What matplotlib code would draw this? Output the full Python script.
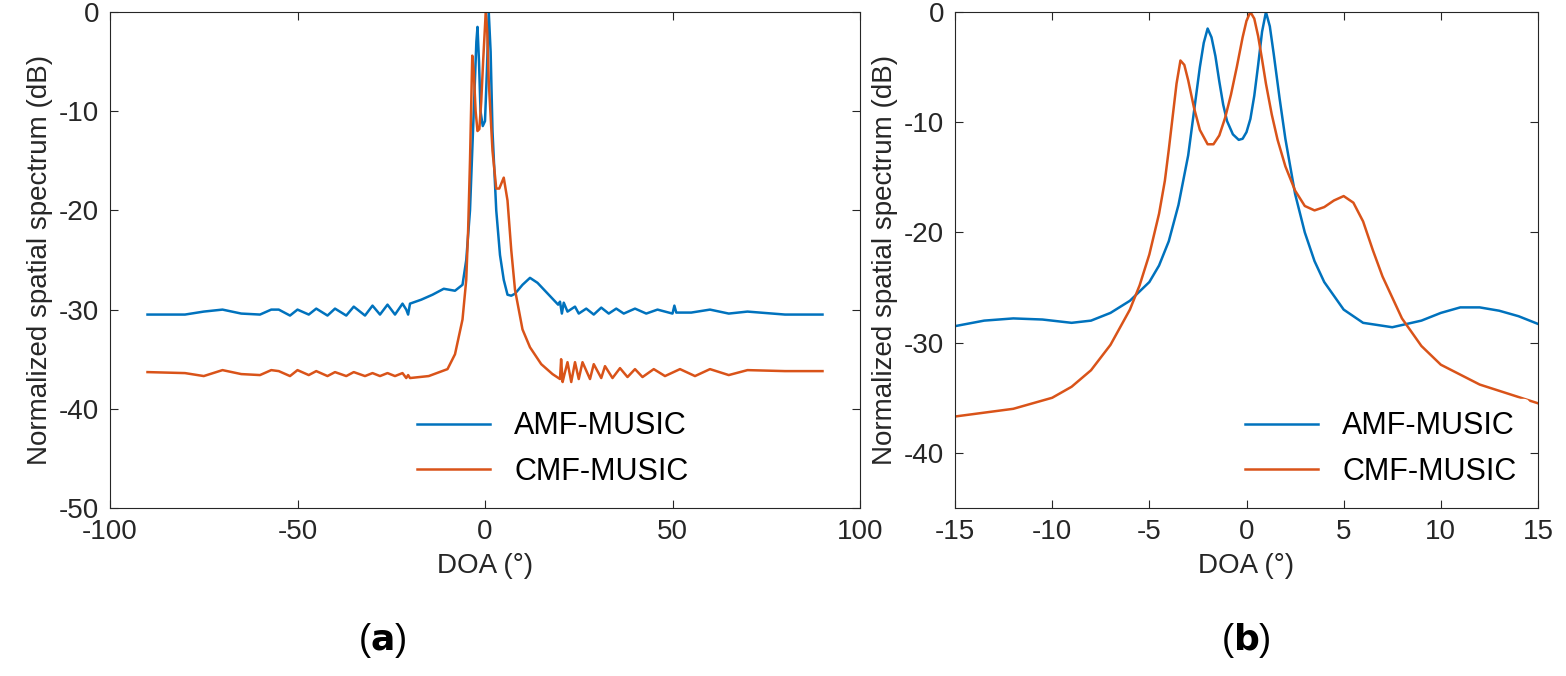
import matplotlib
matplotlib.use("Agg")
import matplotlib.pyplot as plt

plt.rcParams["font.family"] = ["Liberation Sans", "DejaVu Sans"]
plt.rcParams["axes.unicode_minus"] = False

BLUE = "#0072BD"
ORANGE = "#D95319"

# panel (a): full DOA sweep
amf_a_x = [-90, -80, -75, -70, -65, -60, -57, -55, -52, -50, -47, -45, -42, -40, -37, -35, -32, -30,
           -28, -26, -24, -22, -21, -20.5, -20, -17, -14, -11, -8, -6, -5, -4, -3, -2.3, -2, -1.6,
           -1.2, -0.6, 0, 0.5, 1, 1.5, 2, 3, 4, 5, 6, 7, 8, 10, 12, 14, 17, 19.5, 20, 20.5, 21,
           22, 24, 25, 27, 29, 31, 33, 35, 37, 40, 43, 46, 50, 50.5, 51, 55, 60, 65, 70, 80, 90]
amf_a_y = [-30.5, -30.5, -30.2, -30.0, -30.4, -30.5, -30.0, -30.0, -30.6, -30.0, -30.5, -29.9, -30.6,
           -29.9, -30.6, -29.7, -30.6, -29.6, -30.5, -29.5, -30.5, -29.4, -30.0, -30.5, -29.4,
           -29.0, -28.5, -27.9, -28.1, -27.5, -25.0, -20.0, -10.0, -3.0, -1.5, -5.0, -10.0, -11.5,
           -11.0, -6.0, 0.0, -4.0, -12.0, -20.0, -24.5, -27.0, -28.5, -28.6, -28.4, -27.5, -26.8,
           -27.3, -28.5, -29.5, -29.2, -30.4, -29.3, -30.2, -29.7, -30.4, -29.9, -30.5, -29.8,
           -30.4, -29.9, -30.4, -29.9, -30.4, -30.0, -30.4, -29.6, -30.3, -30.3, -30.0, -30.4,
           -30.2, -30.5, -30.5]
cmf_a_x = [-90, -80, -75, -70, -65, -60, -57, -55, -52, -50, -47, -45, -42, -40, -37, -35, -32, -30,
           -28, -26, -24, -22, -21, -20.5, -20, -15, -10, -8, -6, -5, -4.5, -4, -3.4, -3, -2.5,
           -2, -1.5, -1, -0.5, 0.2, 0.6, 1, 2, 3, 3.8, 5, 6, 7, 8, 10, 12, 15, 18, 20, 20.3, 20.7,
           21.2, 22, 23, 24, 25, 26, 28, 29, 31, 32, 34, 36, 38, 40, 42, 45, 48, 52, 56, 60, 65,
           70, 80, 90]
cmf_a_y = [-36.3, -36.4, -36.7, -36.1, -36.5, -36.6, -36.1, -36.2, -36.7, -36.1, -36.6, -36.2, -36.7,
           -36.3, -36.7, -36.3, -36.7, -36.4, -36.7, -36.4, -36.7, -36.4, -36.9, -36.6, -36.9,
           -36.7, -36.0, -34.5, -31.0, -27.0, -22.0, -15.0, -4.4, -6.0, -10.0, -12.0, -11.8, -9.0,
           -5.0, 0.0, -2.0, -7.0, -14.0, -17.8, -17.8, -16.7, -19.0, -24.0, -28.0, -32.0, -33.8,
           -35.5, -36.5, -37.0, -35.0, -37.3, -36.5, -35.3, -37.3, -35.3, -37.0, -35.3, -37.0,
           -35.5, -36.9, -35.7, -36.9, -35.9, -36.8, -36.0, -36.8, -36.0, -36.7, -36.0, -36.7,
           -36.0, -36.6, -36.1, -36.2, -36.2]

# panel (b): zoom on the main lobe
amf_b_x = [-15, -13.5, -12, -10.5, -9, -8, -7, -6, -5, -4.5, -4, -3.5, -3, -2.7, -2.4, -2.2, -2,
           -1.8, -1.6, -1.4, -1.2, -1, -0.7, -0.4, -0.2, 0, 0.2, 0.4, 0.6, 0.8, 1, 1.2, 1.4, 1.7,
           2, 2.5, 3, 3.5, 4, 5, 6, 7.5, 9, 10, 11, 12, 13, 14, 15]
amf_b_y = [-28.5, -28.0, -27.8, -27.9, -28.2, -28.0, -27.3, -26.2, -24.5, -23.0, -20.8, -17.5,
           -13.0, -9.0, -5.0, -2.8, -1.5, -2.3, -4.0, -6.3, -8.4, -9.9, -11.1, -11.6, -11.5,
           -10.9, -9.7, -7.6, -4.8, -1.8, 0.0, -1.3, -3.8, -7.8, -11.5, -16.5, -20.0, -22.6,
           -24.5, -27.0, -28.2, -28.6, -28.0, -27.3, -26.8, -26.8, -27.1, -27.6, -28.3]
cmf_b_x = [-15, -12, -10, -9, -8, -7, -6, -5.5, -5, -4.5, -4.2, -4, -3.8, -3.6, -3.4, -3.2, -3,
           -2.7, -2.4, -2, -1.7, -1.4, -1.1, -0.8, -0.5, -0.2, 0, 0.2, 0.4, 0.6, 0.8, 1, 1.3,
           1.6, 2, 2.5, 3, 3.5, 4, 4.5, 5, 5.5, 6, 6.5, 7, 8, 9, 10, 12, 15]
cmf_b_y = [-36.7, -36.0, -35.0, -34.0, -32.5, -30.2, -27.0, -24.8, -22.0, -18.3, -15.3, -12.5,
           -9.5, -6.5, -4.4, -4.8, -6.2, -8.7, -10.7, -12.0, -12.0, -11.2, -9.6, -7.5, -5.0,
           -2.3, -0.8, 0.0, -0.6, -2.2, -4.3, -6.5, -9.3, -11.6, -14.0, -16.2, -17.6, -18.0,
           -17.7, -17.1, -16.7, -17.3, -19.0, -21.6, -24.0, -27.8, -30.3, -32.0, -33.8, -35.5]

fig = plt.figure(figsize=(15.66, 6.76), dpi=100)
ax_a = fig.add_axes([110 / 1566, 1 - 508 / 676, 750 / 1566, 496 / 676])
ax_b = fig.add_axes([955 / 1566, 1 - 508 / 676, 583 / 1566, 496 / 676])

for ax, ax_x, ay, cx, cy in [(ax_a, amf_a_x, amf_a_y, cmf_a_x, cmf_a_y),
                             (ax_b, amf_b_x, amf_b_y, cmf_b_x, cmf_b_y)]:
    ax.plot(ax_x, ay, color=BLUE, lw=1.8, label="AMF-MUSIC")
    ax.plot(cx, cy, color=ORANGE, lw=1.8, label="CMF-MUSIC")
    ax.set_xlabel("DOA (°)", fontsize=20, color="#262626", labelpad=6)
    ax.set_ylabel("Normalized spatial spectrum (dB)", fontsize=20, color="#262626", labelpad=4)
    ax.tick_params(labelsize=20, colors="#262626", direction="in", length=6, pad=8,
                   top=True, right=True)
    for s in ax.spines.values():
        s.set_color("#262626")

leg_a = ax_a.legend(loc="lower right", bbox_to_anchor=(0.8, 0.0), fontsize=22, handlelength=2.4,
                    borderaxespad=0.3, labelspacing=0.5)
leg_b = ax_b.legend(loc="lower right", bbox_to_anchor=(1.0, 0.0), fontsize=22, handlelength=2.4,
                    borderaxespad=0.3, labelspacing=0.5)
for leg in (leg_a, leg_b):
    leg.get_frame().set_edgecolor("white")
    leg.get_frame().set_alpha(1.0)

ax_a.set_xlim(-100, 100)
ax_a.set_ylim(-50, 0)
ax_a.set_xticks(range(-100, 101, 50))
ax_a.set_yticks(range(-50, 1, 10))
ax_b.set_xlim(-15, 15)
ax_b.set_ylim(-45, 0)
ax_b.set_xticks(range(-15, 16, 5))
ax_b.set_yticks(range(-40, 1, 10))

fig.text(382 / 1566, 1 - 640 / 676, r"($\mathbf{a}$)", fontsize=26, ha="center", va="center")
fig.text(1246 / 1566, 1 - 640 / 676, r"($\mathbf{b}$)", fontsize=26, ha="center", va="center")

fig.savefig("out.png", dpi=100)
